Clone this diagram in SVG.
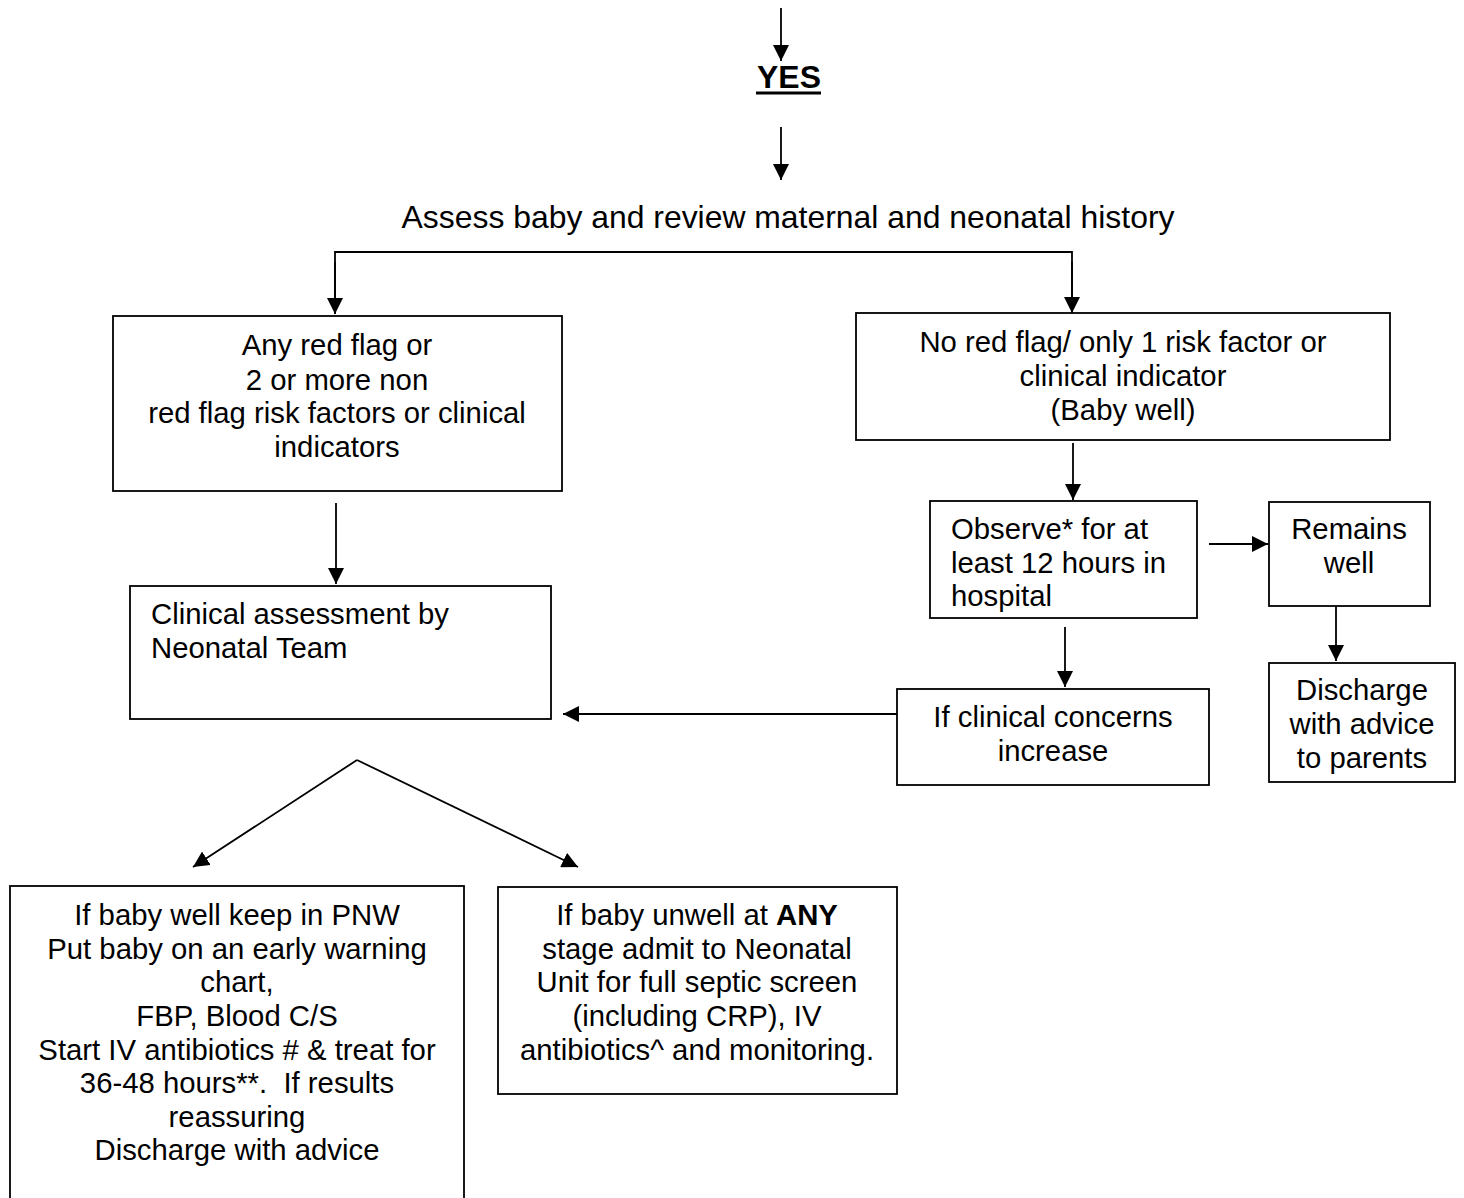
<svg xmlns="http://www.w3.org/2000/svg" width="1464" height="1198" viewBox="0 0 1464 1198">
<defs>
<marker id="ah" markerUnits="userSpaceOnUse" markerWidth="16" markerHeight="16" viewBox="0 0 16 16" refX="16" refY="8" orient="auto">
<path d="M0,0 L16,8 L0,16 Z" fill="#000"/>
</marker>
<style>
text{font-family:"Liberation Sans",Arial,sans-serif;font-size:29.3px;fill:#000}
.c{text-anchor:middle}
.big{font-size:31.9px}
.box{fill:#fff;stroke:#000;stroke-width:1.8}
.ln{fill:none;stroke:#000;stroke-width:1.8}
.ar{fill:none;stroke:#000;stroke-width:1.8;marker-end:url(#ah)}
</style>
</defs>
<rect width="1464" height="1198" fill="#fff"/>
<g id="connectors">
<line class="ar" x1="781" y1="8" x2="781" y2="61"/>
<line class="ar" x1="781" y1="127" x2="781" y2="180"/>
<polyline class="ln" points="335,314 335,252 1072,252 1072,313"/>
<line class="ar" x1="335" y1="262" x2="335" y2="314"/>
<line class="ar" x1="1072" y1="262" x2="1072" y2="313"/>
<line class="ar" x1="336" y1="503" x2="336" y2="584"/>
<line class="ar" x1="1073" y1="443" x2="1073" y2="500"/>
<line class="ar" x1="1209" y1="544" x2="1268" y2="544"/>
<line class="ar" x1="1336" y1="606" x2="1336" y2="661"/>
<line class="ar" x1="1065" y1="627" x2="1065" y2="687"/>
<line class="ar" x1="897" y1="714" x2="563" y2="714"/>
<line class="ar" x1="357" y1="760" x2="193" y2="867"/>
<line class="ar" x1="357" y1="760" x2="578" y2="867"/>
</g>
<g id="yes">
<text class="c big" x="789" y="88" font-weight="bold">YES</text>
<line x1="756" y1="93" x2="821" y2="93" stroke="#000" stroke-width="3"/>
</g>
<g id="assess">
<text class="c big" x="788" y="228">Assess baby and review maternal and neonatal history</text>
</g>
<g id="redflag">
<rect class="box" x="113" y="316" width="449" height="175"/>
<text class="c" x="337" y="355">Any red flag or</text>
<text class="c" x="337" y="390">2 or more non</text>
<text class="c" x="337" y="423">red flag risk factors or clinical</text>
<text class="c" x="337" y="457">indicators</text>
</g>
<g id="noredflag">
<rect class="box" x="856" y="313" width="534" height="127"/>
<text class="c" x="1123" y="352">No red flag/ only 1 risk factor or</text>
<text class="c" x="1123" y="386">clinical indicator</text>
<text class="c" x="1123" y="420">(Baby well)</text>
</g>
<g id="clinical">
<rect class="box" x="130" y="586" width="421" height="133"/>
<text x="151" y="624">Clinical assessment by</text>
<text x="151" y="658">Neonatal Team</text>
</g>
<g id="observe">
<rect class="box" x="930" y="501" width="267" height="117"/>
<text x="951" y="539">Observe* for at</text>
<text x="951" y="573">least 12 hours in</text>
<text x="951" y="606">hospital</text>
</g>
<g id="remains">
<rect class="box" x="1269" y="502" width="161" height="104"/>
<text class="c" x="1349" y="539">Remains</text>
<text class="c" x="1349" y="573">well</text>
</g>
<g id="discharge">
<rect class="box" x="1269" y="663" width="186" height="119"/>
<text class="c" x="1362" y="700">Discharge</text>
<text class="c" x="1362" y="734">with advice</text>
<text class="c" x="1362" y="768">to parents</text>
</g>
<g id="concerns">
<rect class="box" x="897" y="689" width="312" height="96"/>
<text class="c" x="1053" y="727">If clinical concerns</text>
<text class="c" x="1053" y="761">increase</text>
</g>
<g id="babywell">
<rect class="box" x="10" y="886" width="454" height="330"/>
<text class="c" x="237" y="925">If baby well keep in PNW</text>
<text class="c" x="237" y="959">Put baby on an early warning</text>
<text class="c" x="237" y="992">chart,</text>
<text class="c" x="237" y="1026">FBP, Blood C/S</text>
<text class="c" x="237" y="1060">Start IV antibiotics # &amp; treat for</text>
<text class="c" x="237" y="1093">36-48 hours**.&#160; If results</text>
<text class="c" x="237" y="1127">reassuring</text>
<text class="c" x="237" y="1160">Discharge with advice</text>
</g>
<g id="babyunwell">
<rect class="box" x="498" y="887" width="399" height="207"/>
<text class="c" x="697" y="925">If baby unwell at <tspan font-weight="bold">ANY</tspan></text>
<text class="c" x="697" y="959">stage admit to Neonatal</text>
<text class="c" x="697" y="992">Unit for full septic screen</text>
<text class="c" x="697" y="1026">(including CRP), IV</text>
<text class="c" x="697" y="1060">antibiotics^ and monitoring.</text>
</g>
</svg>
